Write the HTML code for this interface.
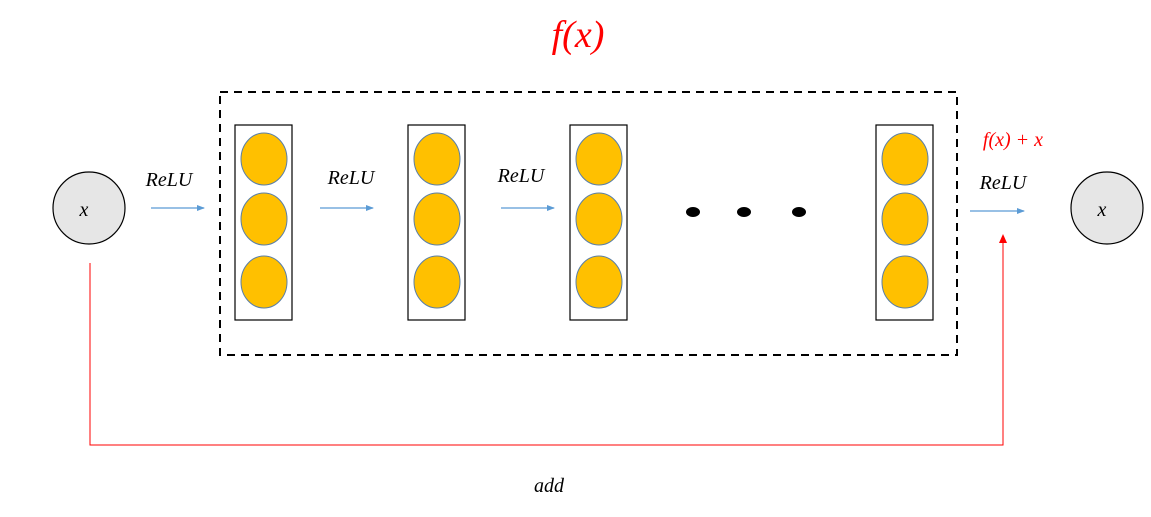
<!DOCTYPE html>
<html><head><meta charset="utf-8"><style>html,body{margin:0;padding:0;background:#fff}</style></head>
<body>
<svg width="1151" height="512" viewBox="0 0 1151 512" xmlns="http://www.w3.org/2000/svg" font-family="'Liberation Serif', serif" font-style="italic">
<defs>
<marker id="b" markerWidth="8" markerHeight="8" refX="7" refY="4" orient="auto" markerUnits="userSpaceOnUse"><path d="M0,1 L8,4 L0,7 Z" fill="#5b9bd5"/></marker>
<marker id="r" markerWidth="8" markerHeight="10" refX="4" refY="1" orient="auto" markerUnits="userSpaceOnUse"></marker>
</defs>
<text x="578" y="47" fill="#f00" font-size="38" text-anchor="middle">f(x)</text>
<rect x="220" y="92" width="737" height="263" fill="none" stroke="#000" stroke-width="2" stroke-dasharray="8,6"/>
<g stroke="#000" stroke-width="1.2" fill="#fff">
<rect x="235" y="125" width="57" height="195"/>
<rect x="408" y="125" width="57" height="195"/>
<rect x="570" y="125" width="57" height="195"/>
<rect x="876" y="125" width="57" height="195"/>
</g>
<g fill="#ffc000" stroke="#5a7fa8" stroke-width="1">
<ellipse cx="264" cy="159" rx="23" ry="26"/><ellipse cx="264" cy="219" rx="23" ry="26"/><ellipse cx="264" cy="282" rx="23" ry="26"/>
<ellipse cx="437" cy="159" rx="23" ry="26"/><ellipse cx="437" cy="219" rx="23" ry="26"/><ellipse cx="437" cy="282" rx="23" ry="26"/>
<ellipse cx="599" cy="159" rx="23" ry="26"/><ellipse cx="599" cy="219" rx="23" ry="26"/><ellipse cx="599" cy="282" rx="23" ry="26"/>
<ellipse cx="905" cy="159" rx="23" ry="26"/><ellipse cx="905" cy="219" rx="23" ry="26"/><ellipse cx="905" cy="282" rx="23" ry="26"/>
</g>
<g fill="#000"><ellipse cx="693" cy="212" rx="7" ry="5"/><ellipse cx="744" cy="212" rx="7" ry="5"/><ellipse cx="799" cy="212" rx="7" ry="5"/></g>
<circle cx="89" cy="208" r="36" fill="#e6e6e6" stroke="#000" stroke-width="1.2"/>
<circle cx="1107" cy="208" r="36" fill="#e6e6e6" stroke="#000" stroke-width="1.2"/>
<text x="84" y="216" font-size="20" text-anchor="middle">x</text>
<text x="1102" y="216" font-size="20" text-anchor="middle">x</text>
<g stroke="#5b9bd5" stroke-width="1.3" marker-end="url(#b)">
<line x1="151" y1="208" x2="204" y2="208"/>
<line x1="320" y1="208" x2="373" y2="208"/>
<line x1="501" y1="208" x2="554" y2="208"/>
<line x1="970" y1="211" x2="1024" y2="211"/>
</g>
<g font-size="20" text-anchor="middle" fill="#000">
<text x="169" y="186">ReLU</text>
<text x="351" y="184">ReLU</text>
<text x="521" y="182">ReLU</text>
<text x="1003" y="189">ReLU</text>
<text x="549" y="492">add</text>
</g>
<text x="1013" y="146" font-size="20" fill="#f00" text-anchor="middle">f(x) + x</text>
<polyline points="90,263 90,445 1003,445 1003,242" fill="none" stroke="#f00" stroke-width="1"/>
<path d="M999,243 L1003,234 L1007,243 Z" fill="#f00"/>
</svg>
</body></html>
